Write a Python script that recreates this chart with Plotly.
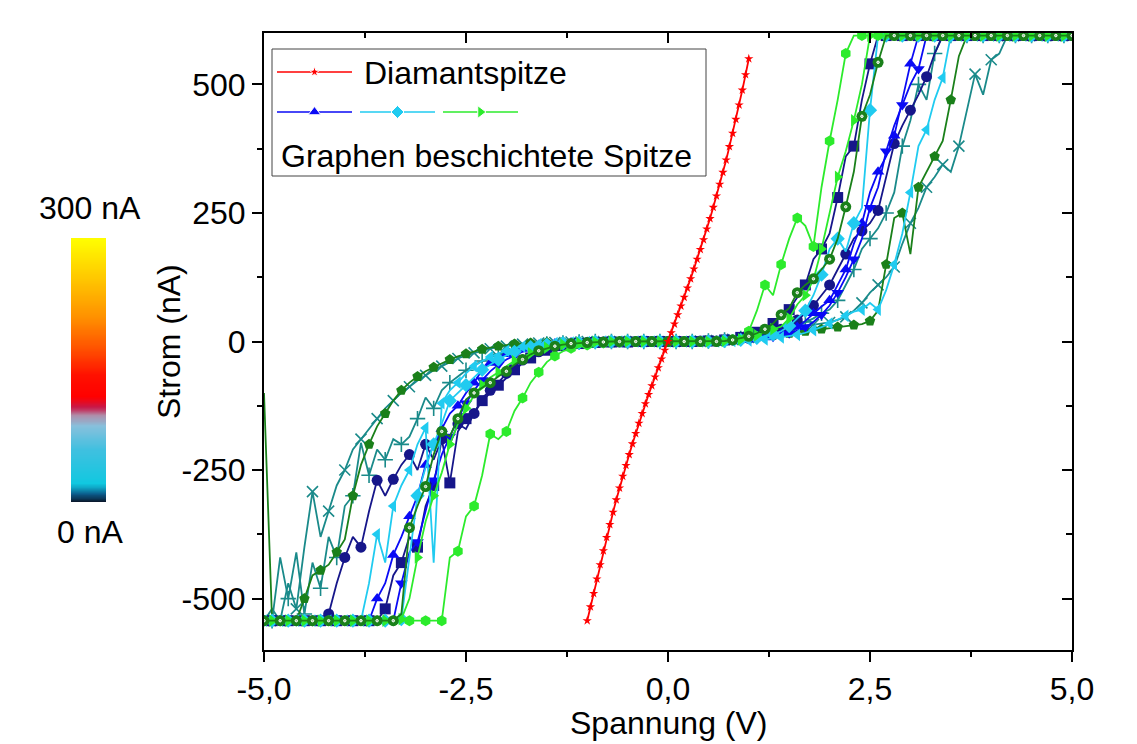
import plotly.graph_objects as go

# ---------------- data ----------------
V = [-5.0, -4.9, -4.8, -4.7, -4.6, -4.5, -4.4, -4.3, -4.2, -4.1,
     -4.0, -3.9, -3.8, -3.7, -3.6, -3.5, -3.4, -3.3, -3.2, -3.1,
     -3.0, -2.9, -2.8, -2.7, -2.6, -2.5, -2.4, -2.3, -2.2, -2.1,
     -2.0, -1.9, -1.8, -1.7, -1.6, -1.5, -1.4, -1.3, -1.2, -1.1,
     -1.0, -0.9, -0.8, -0.7, -0.6, -0.5, -0.4, -0.3, -0.2, -0.1,
     0.0, 0.1, 0.2, 0.3, 0.4, 0.5, 0.6, 0.7, 0.8, 0.9,
     1.0, 1.1, 1.2, 1.3, 1.4, 1.5, 1.6, 1.7, 1.8, 1.9,
     2.0, 2.1, 2.2, 2.3, 2.4, 2.5, 2.6, 2.7, 2.8, 2.9,
     3.0, 3.1, 3.2, 3.3, 3.4, 3.5, 3.6, 3.7, 3.8, 3.9,
     4.0, 4.1, 4.2, 4.3, 4.4, 4.5, 4.6, 4.7, 4.8, 4.9, 5.0]

# navy, squares
navy_sq_neg = [-543, -543, -543, -543, -543, -543, -543, -543, -543, -543,
               -543, -543, -543, -543, -543, -520, -455, -430, -380, -400,
               -320, -280, -190, -275, -175, -150, -140, -115, -100, -85,
               -70, -55, -42, -32, -24, -17, -12, -8, -5, -4,
               -3, -2, -2, -1, -1, -1, 0, 0, 0, 0]
navy_sq_pos = [0, 0, 0, 0, 1, 1, 2, 3, 5, 8,
               12, 18, 25, 35, 50, 62, 85, 110, 160, 180,
               210, 280, 360, 380, 470, 540, 595, 595, 595, 595,
               595, 595, 595, 595, 595, 595, 595, 595, 595, 595,
               595, 595, 595, 595, 595, 595, 595, 595, 595, 595, 595]
# navy, circles
navy_ci_neg = [-543, -543, -543, -543, -543, -543, -543, -543, -530, -470,
               -420, -380, -400, -330, -270, -300, -268, -240, -220, -250,
               -200, -230, -190, -200, -160, -170, -140, -110, -95, -80,
               -62, -48, -36, -27, -20, -14, -10, -7, -5, -3,
               -2, -2, -1, -1, -1, 0, 0, 0, 0, 0]
navy_ci_pos = [0, 0, 0, 0, 1, 1, 1, 2, 3, 4,
               6, 9, 13, 18, 24, 32, 42, 55, 70, 90,
               110, 140, 170, 200, 215, 230, 255, 320, 385, 420,
               450, 480, 515, 560, 595, 595, 595, 595, 595, 595,
               595, 595, 595, 595, 595, 595, 595, 595, 595, 595, 595]
# blue, triangle up
blue_up_neg = [-543, -543, -543, -543, -543, -543, -543, -543, -543, -543,
               -543, -543, -543, -543, -500, -470, -415, -380, -340, -300,
               -240, -200, -170, -140, -125, -100, -80, -55, -42, -33,
               -25, -19, -14, -10, -7, -5, -4, -3, -2, -2,
               -1, -1, -1, 0, 0, 0, 0, 0, 0, 0]
blue_up_pos = [0, 0, 0, 0, 0, 0, 1, 1, 2, 3,
               4, 6, 8, 11, 15, 20, 28, 40, 55, 68,
               80, 110, 140, 190, 230, 290, 330, 360, 400, 470,
               540, 595, 595, 595, 595, 595, 595, 595, 595, 595,
               595, 595, 595, 595, 595, 595, 595, 595, 595, 595, 595]
# blue, triangle down
blue_dn_neg = [-543, -543, -543, -543, -543, -543, -543, -543, -543, -543,
               -543, -543, -543, -543, -543, -543, -543, -470, -410, -390,
               -330, -270, -220, -185, -150, -120, -95, -75, -58, -45,
               -35, -27, -20, -15, -11, -8, -6, -4, -3, -2,
               -2, -1, -1, -1, 0, 0, 0, 0, 0, 0]
blue_dn_pos = [0, 0, 0, 0, 0, 0, 1, 1, 2, 3,
               4, 5, 7, 9, 12, 16, 21, 28, 38, 52,
               70, 95, 125, 160, 200, 260, 300, 370, 420, 460,
               500, 530, 595, 595, 595, 595, 595, 595, 595, 595,
               595, 595, 595, 595, 595, 595, 595, 595, 595, 595, 595]
# cyan, diamond
cyan_di_neg = [-543, -543, -543, -543, -543, -543, -543, -543, -543, -543,
               -543, -543, -543, -543, -543, -543, -543, -540, -420, -300,
               -245, -200, -160, -115, -100, -85, -70, -55, -45, -35,
               -27, -20, -15, -11, -8, -6, -4, -3, -2, -2,
               -1, -1, 0, 0, 0, 0, 0, 0, 0, 0]
cyan_di_pos = [0, 0, 0, 0, 0, 0, 1, 1, 2, 3,
               5, 7, 10, 14, 20, 30, 45, 60, 90, 130,
               180, 200, 175, 230, 260, 450, 595, 595, 595, 595,
               595, 595, 595, 595, 595, 595, 595, 595, 595, 595,
               595, 595, 595, 595, 595, 595, 595, 595, 595, 595, 595]
# cyan, triangle left
cyan_tl_neg = [-543, -543, -543, -543, -543, -543, -543, -543, -543, -543,
               -543, -543, -543, -470, -375, -430, -320, -280, -250, -200,
               -168, -430, -120, -95, -80, -62, -48, -38, -30, -23,
               -18, -13, -10, -7, -5, -4, -3, -2, -2, -1,
               -1, 0, 0, 0, 0, 0, 0, 0, 0, 0]
cyan_tl_pos = [0, 0, 0, 0, 0, 0, 0, 1, 1, 2,
               2, 3, 4, 6, 8, 10, 13, 17, 22, 28,
               35, 42, 50, 58, 62, 75, 62, 100, 150, 210,
               290, 380, 412, 470, 513, 595, 595, 595, 595, 595,
               595, 595, 595, 595, 595, 595, 595, 595, 595, 595, 595]
# lime, triangle right
lime_tr_neg = [-543, -543, -543, -543, -543, -543, -543, -543, -543, -543,
               -543, -543, -543, -543, -543, -543, -543, -540, -500, -420,
               -350, -300, -255, -200, -160, -130, -105, -85, -70, -60,
               -48, -38, -30, -23, -17, -12, -9, -6, -4, -3,
               -2, -1, -1, 0, 0, 0, 0, 0, 0, 0]
lime_tr_pos = [0, 0, 0, 0, 0, 0, 0, 1, 2, 4,
               7, 12, 18, 24, 29, 45, 72, 90, 120, 180,
               250, 320, 370, 430, 500, 595, 595, 595, 595, 595,
               595, 595, 595, 595, 595, 595, 595, 595, 595, 595,
               595, 595, 595, 595, 595, 595, 595, 595, 595, 595, 595]
# lime, hexagon
lime_hx_neg = [-543, -543, -543, -543, -543, -543, -543, -543, -543, -543,
               -543, -543, -543, -543, -543, -543, -543, -543, -543, -543,
               -543, -543, -543, -420, -408, -340, -320, -260, -180, -190,
               -175, -135, -110, -80, -60, -40, -28, -19, -13, -10,
               -7, -5, -3, -2, -1, -1, 0, 0, 0, 0]
lime_hx_pos = [0, 0, 0, 0, 0, 0, 1, 2, 4, 8,
               20, 60, 110, 90, 150, 200, 240, 225, 185, 300,
               390, 470, 560, 595, 595, 595, 595, 595, 595, 595,
               595, 595, 595, 595, 595, 595, 595, 595, 595, 595,
               595, 595, 595, 595, 595, 595, 595, 595, 595, 595, 595]
# dark green, sphere
dgr_sp_neg = [-543, -543, -543, -543, -543, -543, -543, -543, -543, -543,
              -543, -543, -543, -543, -543, -543, -543, -530, -362, -320,
              -282, -220, -175, -185, -150, -113, -100, -90, -80, -68,
              -58, -45, -35, -25, -18, -13, -9, -6, -4, -3,
              -2, -1, -1, 0, 0, 0, 0, 0, 0, 0]
dgr_sp_pos = [0, 0, 0, 0, 0, 0, 0, 1, 3, 6,
              10, 16, 24, 35, 52, 65, 95, 110, 122, 140,
              160, 200, 262, 330, 438, 480, 543, 595, 595, 595,
              595, 595, 595, 595, 595, 595, 595, 595, 595, 595,
              595, 595, 595, 595, 595, 595, 595, 595, 595, 595, 595]
# dark green, pentagon
dgr_pe_neg = [-100, -543, -543, -543, -543, -500, -455, -445, -434, -410,
              -385, -300, -240, -200, -165, -140, -115, -95, -80, -68,
              -58, -50, -42, -35, -29, -24, -19, -15, -12, -9,
              -7, -5, -4, -3, -2, -2, -1, -1, -1, 0,
              0, 0, 0, 0, 0, 0, 0, 0, 0, 0]
dgr_pe_pos = [0, 0, 0, 0, 1, 1, 2, 3, 4, 5,
              6, 8, 10, 12, 14, 16, 18, 20, 22, 24,
              26, 28, 30, 32, 34, 40, 60, 150, 240, 250,
              170, 300, 330, 360, 390, 470, 555, 595, 595, 595,
              595, 595, 595, 595, 595, 595, 595, 595, 595, 595, 595]
# teal, x
teal_x_neg = [-543, -520, -543, -470, -520, -400, -292, -380, -330, -280,
              -250, -210, -190, -170, -150, -130, -115, -100, -88, -76,
              -66, -56, -48, -40, -33, -27, -22, -18, -14, -11,
              -9, -7, -5, -4, -3, -2, -2, -1, -1, 0,
              0, 0, 0, 0, 0, 0, 0, 0, 0, 0]
teal_x_pos = [0, 0, 0, 0, 1, 1, 2, 3, 4, 6,
              8, 11, 14, 17, 20, 24, 28, 30, 33, 35,
              37, 42, 48, 60, 75, 95, 110, 125, 145, 190,
              230, 260, 300, 320, 344, 330, 380, 450, 520, 480,
              548, 560, 595, 595, 595, 595, 595, 595, 595, 595, 595]
# teal, plus
teal_p_neg = [-543, -543, -420, -500, -410, -530, -430, -480, -380, -420,
              -320, -300, -197, -260, -210, -230, -190, -200, -185, -150,
              -109, -130, -95, -80, -68, -56, -46, -38, -31, -25,
              -20, -16, -12, -9, -7, -5, -4, -3, -2, -1,
              -1, 0, 0, 0, 0, 0, 0, 0, 0, 0]
teal_p_pos = [0, 0, 0, 0, 1, 1, 2, 3, 4, 6,
              8, 10, 13, 16, 20, 25, 30, 38, 45, 55,
              62, 80, 110, 140, 180, 200, 220, 250, 290, 380,
              430, 500, 470, 560, 595, 595, 595, 595, 595, 595,
              595, 595, 595, 595, 595, 595, 595, 595, 595, 595, 595]

# diamond tip (red)
V_dia = [-1.00, -0.96, -0.92, -0.88, -0.84, -0.80, -0.76, -0.72, -0.68, -0.64,
         -0.60, -0.56, -0.52, -0.48, -0.44, -0.40, -0.36, -0.32, -0.28, -0.24,
         -0.20, -0.16, -0.12, -0.08, -0.04, 0.00, 0.04, 0.08, 0.12, 0.16,
         0.20, 0.24, 0.28, 0.32, 0.36, 0.40, 0.44, 0.48, 0.52, 0.56,
         0.60, 0.64, 0.68, 0.72, 0.76, 0.80, 0.84, 0.88, 0.92, 0.96, 1.00]
I_dia = [-543, -516, -490, -462, -434, -407, -381, -356, -332, -308,
         -285, -262, -241, -220, -199, -179, -159, -140, -121, -103,
         -86, -69, -51, -34, -17, 0, 17, 34, 52, 69,
         86, 104, 122, 141, 160, 179, 198, 219, 239, 261,
         283, 306, 329, 353, 379, 405, 432, 460, 489, 519, 550]

x_ticks = [-5, -2.5, 0, 2.5, 5]
x_ticktext = ["-5,0", "-2,5", "0,0", "2,5", "5,0"]
y_ticks = [-500, -250, 0, 250, 500]
y_ticktext = ["-500", "-250", "0", "250", "500"]

# ---------------- styles ----------------
NAVY = "#16168A"
BLUE = "#0A0AF5"
CYAN = "#20CBF0"
LIME = "#2CEB2C"
DGREEN = "#1A801A"
TEAL = "#1A8A8A"
FONT = "Liberation Sans, Arial, sans-serif"

curves = [
    (teal_p_neg + teal_p_pos, TEAL, "cross-thin-open", 1),
    (teal_x_neg + teal_x_pos, TEAL, "x-thin-open", 0),
    (dgr_pe_neg + dgr_pe_pos, DGREEN, "pentagon", 1),
    (navy_ci_neg + navy_ci_pos, NAVY, "circle", 0),
    (navy_sq_neg + navy_sq_pos, NAVY, "square", 1),
    (blue_up_neg + blue_up_pos, BLUE, "triangle-up", 0),
    (blue_dn_neg + blue_dn_pos, BLUE, "triangle-down", 1),
    (cyan_tl_neg + cyan_tl_pos, CYAN, "triangle-left", 0),
    (cyan_di_neg + cyan_di_pos, CYAN, "diamond", 1),
    (lime_hx_neg + lime_hx_pos, LIME, "hexagon", 0),
    (lime_tr_neg + lime_tr_pos, LIME, "triangle-right", 1),
    (dgr_sp_neg + dgr_sp_pos, DGREEN, "sphere", 0),
]

fig = go.Figure()

for I, col, sym, off in curves:
    assert len(I) == len(V), (sym, len(I))
    sizes = [11 if (k + off) % 2 == 0 else 0 for k in range(len(V))]
    thin = sym.endswith("open")
    msym = "circle" if sym == "sphere" else sym
    fig.add_trace(go.Scatter(
        x=V, y=I, mode="lines+markers",
        line=dict(color=col, width=1.8),
        marker=dict(symbol=msym, size=sizes, color=col, opacity=1,
                    line=dict(color=col, width=(1.6 if thin else 0))),
        hoverinfo="skip", showlegend=False))
    if sym == "sphere":
        # small highlight on the "sphere" symbols
        fig.add_trace(go.Scatter(
            x=V, y=I, mode="markers",
            marker=dict(symbol="circle", size=[2.5 if s else 0 for s in sizes],
                        color="#9CC49C", opacity=1),
            hoverinfo="skip", showlegend=False))

fig.add_trace(go.Scatter(
    x=V_dia, y=I_dia, mode="lines+markers",
    line=dict(color="#FF0000", width=1.8),
    marker=dict(symbol="star", size=7, color="#FF0000", opacity=1),
    showlegend=False, hoverinfo="skip"))

# dummy trace for mirrored (top/right) axes
fig.add_trace(go.Scatter(x=[None], y=[None], xaxis="x3", yaxis="y3",
                         showlegend=False, hoverinfo="skip"))

# ---------------- pixel overlay (legend + colour bar) ----------------
W, H = 1137, 744
X0, X1, Y0, Y1 = 264, 1072, 33, 650  # plot area in pixels

cb_x = [71, 106]
cb_top, cb_bot = 238, 502
n = 120
cb_y = [cb_bot - (cb_bot - cb_top) * k / n for k in range(n + 1)]
cb_z = [[300 * (k + 0.5) / n] for k in range(n)]
cscale = [
    [0.00, "#0A1020"], [0.03, "#0B5A8A"], [0.07, "#10C8E0"], [0.20, "#40C0E0"],
    [0.29, "#88C0DC"], [0.33, "#B08CA8"], [0.36, "#C81848"], [0.40, "#FF0000"],
    [0.48, "#FF1000"], [0.58, "#FF5000"], [0.70, "#FF9000"], [0.84, "#FFC400"],
    [1.00, "#FFFF00"]]
fig.add_trace(go.Heatmap(x=cb_x, y=cb_y, z=cb_z, colorscale=cscale, zmin=0, zmax=300,
                         showscale=False, xaxis="x2", yaxis="y2", hoverinfo="skip",
                         zsmooth="best"))

leg_items = [
    (277, 352, 72, "#FF0000", "star", 8),
    (277, 352, 112, BLUE, "triangle-up", 11),
    (360, 435, 112, CYAN, "diamond", 10),
    (443, 518, 112, LIME, "triangle-right", 11),
]
for xa, xb, yy, col, sym, ms in leg_items:
    fig.add_trace(go.Scatter(x=[xa, (xa + xb) / 2, xb], y=[yy, yy, yy],
                             mode="lines+markers", xaxis="x2", yaxis="y2",
                             line=dict(color=col, width=1.6),
                             marker=dict(symbol=sym, size=[0, ms, 0], color=col, opacity=1),
                             showlegend=False, hoverinfo="skip"))

shapes = [dict(type="rect", xref="x2", yref="y2", x0=272, x1=706, y0=49, y1=176,
               line=dict(color="#444444", width=1), fillcolor="rgba(0,0,0,0)")]

TXT = dict(size=32, family=FONT, color="black")
annotations = [
    dict(x=362, y=73, xref="x2", yref="y2", text="Diamantspitze", showarrow=False,
         xanchor="left", yanchor="middle", font=TXT),
    dict(x=279, y=156, xref="x2", yref="y2", text="Graphen beschichtete Spitze", showarrow=False,
         xanchor="left", yanchor="middle", font=TXT),
    dict(x=90, y=208, xref="x2", yref="y2", text="300 nA", showarrow=False,
         xanchor="center", yanchor="middle", font=TXT),
    dict(x=90, y=532, xref="x2", yref="y2", text="0 nA", showarrow=False,
         xanchor="center", yanchor="middle", font=TXT),
    dict(x=668, y=723, xref="x2", yref="y2", text="Spannung (V)", showarrow=False,
         xanchor="center", yanchor="middle", font=TXT),
    dict(x=169, y=342, xref="x2", yref="y2", text="Strom (nA)", showarrow=False, textangle=-90,
         xanchor="center", yanchor="middle", font=TXT),
]

xdom = [X0 / W, X1 / W]
ydom = [(H - Y1) / H, (H - Y0) / H]
tickfont = dict(size=32, family=FONT, color="black")
minor_x = [-3.75, -1.25, 1.25, 3.75]
minor_y = [-375, -125, 125, 375]

fig.update_layout(
    template="none",
    width=W, height=H, margin=dict(l=0, r=0, t=0, b=0, pad=0, autoexpand=False),
    paper_bgcolor="white", plot_bgcolor="rgba(0,0,0,0)",
    showlegend=False, shapes=shapes, annotations=annotations,
    xaxis=dict(domain=xdom, range=[-5, 5], anchor="y", showgrid=False, zeroline=False,
               automargin=False, showline=True, linecolor="black", linewidth=2,
               ticks="outside", ticklen=10, tickwidth=2, tickcolor="black",
               tickvals=x_ticks, ticktext=x_ticktext, tickfont=tickfont,
               minor=dict(ticks="outside", ticklen=5, tickwidth=2, tickcolor="black",
                          tickvals=minor_x, showgrid=False)),
    yaxis=dict(domain=ydom, range=[-600, 600], anchor="x", showgrid=False, zeroline=False,
               automargin=False, showline=True, linecolor="black", linewidth=2,
               ticks="outside", ticklen=10, tickwidth=2, tickcolor="black",
               tickvals=y_ticks, ticktext=y_ticktext, tickfont=tickfont,
               minor=dict(ticks="outside", ticklen=5, tickwidth=2, tickcolor="black",
                          tickvals=minor_y, showgrid=False)),
    xaxis3=dict(overlaying="x", side="top", range=[-5, 5], anchor="y", showgrid=False,
                automargin=False, zeroline=False, showline=True, linecolor="black", linewidth=2,
                ticks="inside", ticklen=10, tickwidth=2, tickcolor="black",
                tickvals=x_ticks, showticklabels=False,
                minor=dict(ticks="inside", ticklen=5, tickwidth=2, tickcolor="black",
                           tickvals=minor_x, showgrid=False)),
    yaxis3=dict(overlaying="y", side="right", range=[-600, 600], anchor="x", showgrid=False,
                automargin=False, zeroline=False, showline=True, linecolor="black", linewidth=2,
                ticks="inside", ticklen=10, tickwidth=2, tickcolor="black",
                tickvals=y_ticks, showticklabels=False,
                minor=dict(ticks="inside", ticklen=6, tickwidth=2, tickcolor="black",
                           tickvals=minor_y, showgrid=False)),
    xaxis2=dict(domain=[0, 1], range=[0, W], anchor="y2", visible=False, fixedrange=True,
                automargin=False),
    yaxis2=dict(domain=[0, 1], range=[H, 0], anchor="x2", visible=False, fixedrange=True,
                automargin=False),
)

fig.write_html("out.html", config={"displayModeBar": False},
               post_script="document.body.style.margin='0px';")
